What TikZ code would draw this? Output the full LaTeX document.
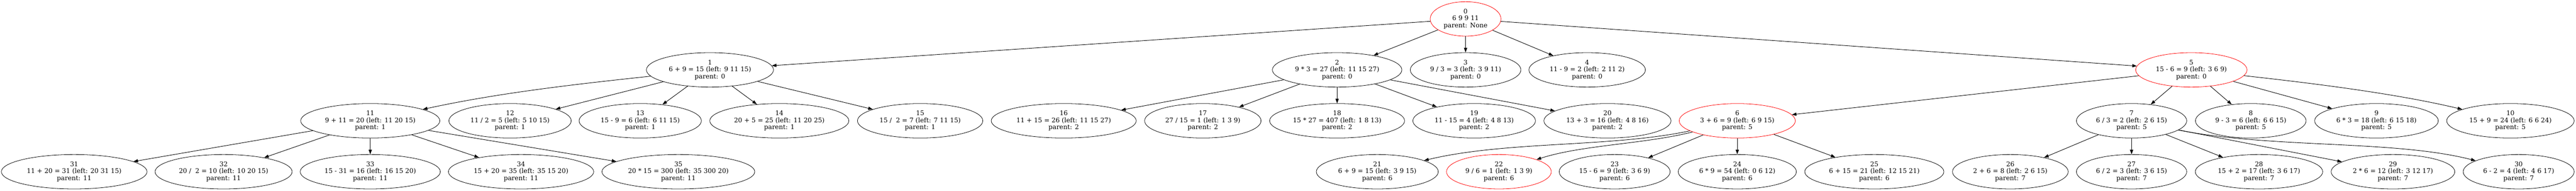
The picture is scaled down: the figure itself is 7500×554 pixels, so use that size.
\documentclass[tikz,border=0pt]{standalone}
\usepackage{fontspec}
\setmainfont{DejaVu Serif}
\usetikzlibrary{arrows.meta,shapes.geometric}
\begin{document}
\begin{tikzpicture}[x=0.75pt,y=-0.75pt,
  nd/.style={draw=black, line width=0.9pt, ellipse, inner sep=0pt,
    minimum height=75pt, minimum width=#1, align=center,
    font=\fontsize{14pt}{15.2pt}\selectfont},
  rd/.style={nd=#1, draw=red},
  edge/.style={line width=1pt, -{Triangle[length=10pt,width=7pt]}}]
\useasboundingbox (0,0) rectangle (7500,554);
% level 0
\node[rd=154.5pt] (n0) at (4267,55) {0\\6 9 9 11\\parent: None};
% level 1
\node[nd=277.5pt] (n1) at (2067,203) {1\\6 + 9 = 15 (left: 9 11 15)\\parent: 0};
\node[nd=282.75pt] (n2) at (3893,203) {2\\9 * 3 = 27 (left: 11 15 27)\\parent: 0};
\node[nd=241.5pt] (n3) at (4267,203) {3\\9 / 3 = 3 (left: 3 9 11)\\parent: 0};
\node[nd=254.25pt] (n4) at (4621,203) {4\\11 - 9 = 2 (left: 2 11 2)\\parent: 0};
\node[rd=243pt] (n5) at (6380,203) {5\\15 - 6 = 9 (left: 3 6 9)\\parent: 0};
% level 2
\node[nd=303.75pt] (n11) at (1078,351) {11\\9 + 11 = 20 (left: 11 20 15)\\parent: 1};
\node[nd=267pt] (n12) at (1485,351) {12\\11 / 2 = 5 (left: 5 10 15)\\parent: 1};
\node[nd=267pt] (n13) at (1864,351) {13\\15 - 9 = 6 (left: 6 11 15)\\parent: 1};
\node[nd=303.75pt] (n14) at (2269,351) {14\\20 + 5 = 25 (left: 11 20 25)\\parent: 1};
\node[nd=273.75pt] (n15) at (2679,351) {15\\15 /\ \ 2 = 7 (left: 7 11 15)\\parent: 1};
\node[nd=316.5pt] (n16) at (3097,351) {16\\11 + 15 = 26 (left: 11 15 27)\\parent: 2};
\node[nd=254.25pt] (n17) at (3502,351) {17\\27 / 15 = 1 (left: 1 3 9)\\parent: 2};
\node[nd=294.75pt] (n18) at (3893,351) {18\\15 * 27 = 407 (left: 1 8 13)\\parent: 2};
\node[nd=267.75pt] (n19) at (4292,351) {19\\11 - 15 = 4 (left: 4 8 13)\\parent: 2};
\node[nd=277.5pt] (n20) at (4680,351) {20\\13 + 3 = 16 (left: 4 8 16)\\parent: 2};
\node[rd=253.5pt] (n6) at (5058,351) {6\\3 + 6 = 9 (left: 6 9 15)\\parent: 5};
\node[nd=240.75pt] (n7) at (6206,351) {7\\6 / 3 = 2 (left: 2 6 15)\\parent: 5};
\node[nd=241.5pt] (n8) at (6553,351) {8\\9 - 3 = 6 (left: 6 6 15)\\parent: 5};
\node[nd=270pt] (n9) at (6919,351) {9\\6 * 3 = 18 (left: 6 15 18)\\parent: 5};
\node[nd=278.25pt] (n10) at (7309,351) {10\\15 + 9 = 24 (left: 6 6 24)\\parent: 5};
% level 3
\node[nd=318pt] (n31) at (216,499) {31\\11 + 20 = 31 (left: 20 31 15)\\parent: 11};
\node[nd=299.25pt] (n32) at (651,499) {32\\20 /\ \ 2 = 10 (left: 10 20 15)\\parent: 11};
\node[nd=306pt] (n33) at (1078,499) {33\\15 - 31 = 16 (left: 16 15 20)\\parent: 11};
\node[nd=317.25pt] (n34) at (1517,499) {34\\15 + 20 = 35 (left: 35 15 20)\\parent: 11};
\node[nd=333.75pt] (n35) at (1975,499) {35\\20 * 15 = 300 (left: 35 300 20)\\parent: 11};
\node[nd=266.25pt] (n21) at (4010,499) {21\\6 + 9 = 15 (left: 3 9 15)\\parent: 6};
\node[rd=228.75pt] (n22) at (4364,499) {22\\9 / 6 = 1 (left: 1 3 9)\\parent: 6};
\node[nd=242.25pt] (n23) at (4701,499) {23\\15 - 6 = 9 (left: 3 6 9)\\parent: 6};
\node[nd=258pt] (n24) at (5058,499) {24\\6 * 9 = 54 (left: 0 6 12)\\parent: 6};
\node[nd=303.75pt] (n25) at (5457,499) {25\\6 + 15 = 21 (left: 12 15 21)\\parent: 6};
\node[nd=252.75pt] (n26) at (5853,499) {26\\2 + 6 = 8 (left: 2 6 15)\\parent: 7};
\node[nd=240.75pt] (n27) at (6206,499) {27\\6 / 2 = 3 (left: 3 6 15)\\parent: 7};
\node[nd=278.25pt] (n28) at (6577,499) {28\\15 + 2 = 17 (left: 3 6 17)\\parent: 7};
\node[nd=270pt] (n29) at (6967,499) {29\\2 * 6 = 12 (left: 3 12 17)\\parent: 7};
\node[nd=242.25pt] (n30) at (7333,499) {30\\6 - 2 = 4 (left: 4 6 17)\\parent: 7};
% edges from 0
\draw[edge] (n0) -- (n1);
\draw[edge] (n0) -- (n2);
\draw[edge] (n0) -- (n3);
\draw[edge] (n0) -- (n4);
\draw[edge] (n0) -- (n5);
% edges from 1
\draw[edge] (n1) .. controls (1673,245) and (1451,270) .. (n11);
\draw[edge] (n1) -- (n12);
\draw[edge] (n1) -- (n13);
\draw[edge] (n1) -- (n14);
\draw[edge] (n1) -- (n15);
% edges from 2
\draw[edge] (n2) -- (n16);
\draw[edge] (n2) -- (n17);
\draw[edge] (n2) -- (n18);
\draw[edge] (n2) -- (n19);
\draw[edge] (n2) -- (n20);
% edges from 5
\draw[edge] (n5) -- (n6);
\draw[edge] (n5) -- (n7);
\draw[edge] (n5) -- (n8);
\draw[edge] (n5) -- (n9);
\draw[edge] (n5) .. controls (6752,244) and (6980,273) .. (n10);
% edges from 11
\draw[edge] (n11) -- (n31);
\draw[edge] (n11) -- (n32);
\draw[edge] (n11) -- (n33);
\draw[edge] (n11) -- (n34);
\draw[edge] (n11) -- (n35);
% edges from 6
\draw[edge] (n6) .. controls (4690,429) and (4386,409) .. (n21);
\draw[edge] (n6) .. controls (4786,419) and (4606,421) .. (n22);
\draw[edge] (n6) -- (n23);
\draw[edge] (n6) -- (n24);
\draw[edge] (n6) -- (n25);
% edges from 7
\draw[edge] (n7) -- (n26);
\draw[edge] (n7) -- (n27);
\draw[edge] (n7) -- (n28);
\draw[edge] (n7) -- (n29);
\draw[edge] (n7) .. controls (6616,432) and (6970,406) .. (n30);
\end{tikzpicture}
\end{document}
